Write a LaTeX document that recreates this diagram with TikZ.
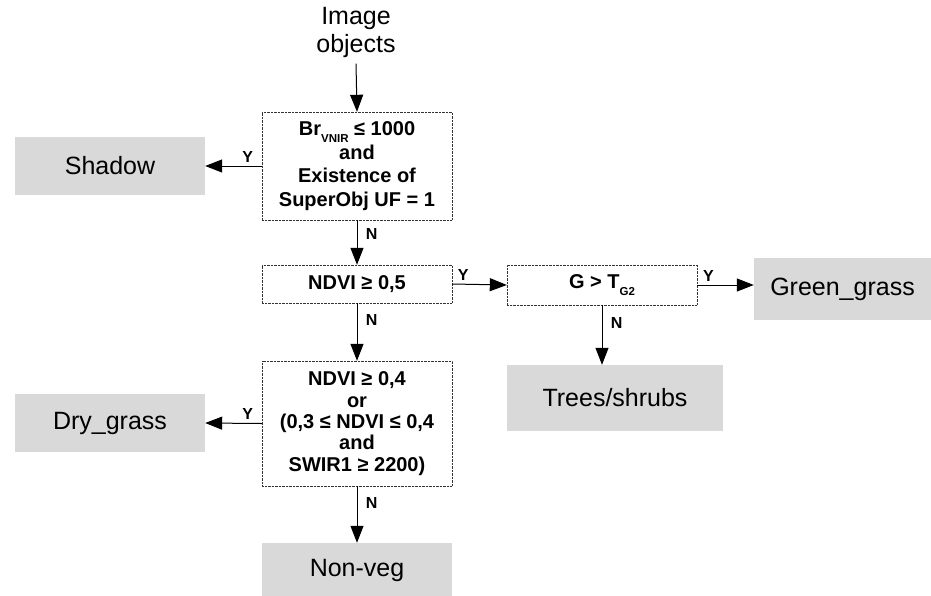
\documentclass[tikz,border=0pt]{standalone}
\usepackage{fontspec}
\setmainfont{Liberation Sans}
\usetikzlibrary{arrows.meta}
\newcommand{\lowsub}[1]{\raisebox{-7pt}{\fontsize{11.5}{11.5}\selectfont #1}}
\begin{document}
\begin{tikzpicture}[x=1pt,y=-1pt,
  test/.style={draw=black!80,densely dotted,align=center,inner sep=0pt,
    font=\fontsize{20}{23.5}\selectfont\bfseries},
  leaf/.style={fill=black!15,inner sep=0pt,font=\fontsize{25}{28}\selectfont},
  flow/.style={-{Triangle[length=17pt,width=13pt]},line width=1pt},
  yn/.style={font=\fontsize{16}{16}\selectfont\bfseries}]
\useasboundingbox (0,0) rectangle (931,595);
\node[align=center,font=\fontsize{25}{28}\selectfont] (obj) at (356,32) {Image\\objects};
% tests
\node[test,minimum width=190pt,minimum height=108pt] (brt) at (357,166) {Br\lowsub{VNIR} ≤ 1000\\and\\Existence of\\SuperObj UF = 1};
\node[test,minimum width=190pt,minimum height=38pt] (ndvi) at (357,284) {NDVI ≥ 0,5};
\node[test,minimum width=190pt,minimum height=40pt] (gt) at (602,285) {G > T\lowsub{G2}};
\node[test,font=\fontsize{20}{21.3}\selectfont\bfseries,minimum width=190pt,minimum height=125pt] (dry) at (357,423.5) {NDVI ≥ 0,4\\or\\(0,3 ≤ NDVI ≤ 0,4\\and\\SWIR1 ≥ 2200)};
% classes
\node[leaf,minimum width=190pt,minimum height=58pt] (shadow) at (110,166) {Shadow};
\node[leaf,minimum width=177pt,minimum height=62pt] (green) at (842.5,289) {Green\_grass};
\node[leaf,minimum width=216pt,minimum height=66pt] (trees) at (615,398) {Trees/shrubs};
\node[leaf,minimum width=190pt,minimum height=58pt] (drygr) at (110,423) {Dry\_grass};
\node[leaf,minimum width=190pt,minimum height=54pt] (nonveg) at (357,570) {Non-veg};
% connectors
\draw[flow] (obj.south) ++(0,3) coordinate (o1) (o1) -- (brt.north);
\draw[flow] (brt.west) -- (shadow.east) node[yn,pos=0.25,above=0pt]{Y};
\draw[flow] (brt) -- (ndvi) node[yn,pos=0.3,right=5pt]{N};
\draw[flow] (ndvi.east) -- (gt.west) node[yn,pos=0.2,above=0pt]{Y};
\draw[flow] (gt.east) -- (gt.east -| green.west) node[yn,pos=0.2,above=0pt]{Y};
\draw[flow] (gt.south) -- (gt.south |- trees.north) node[yn,pos=0.3,right=5pt]{N};
\draw[flow] (ndvi) -- (dry) node[yn,pos=0.3,right=5pt]{N};
\draw[flow] (dry.west) -- (drygr.east) node[yn,pos=0.25,above=0pt]{Y};
\draw[flow] (dry) -- (nonveg) node[yn,pos=0.3,right=5pt]{N};
\end{tikzpicture}
\end{document}
